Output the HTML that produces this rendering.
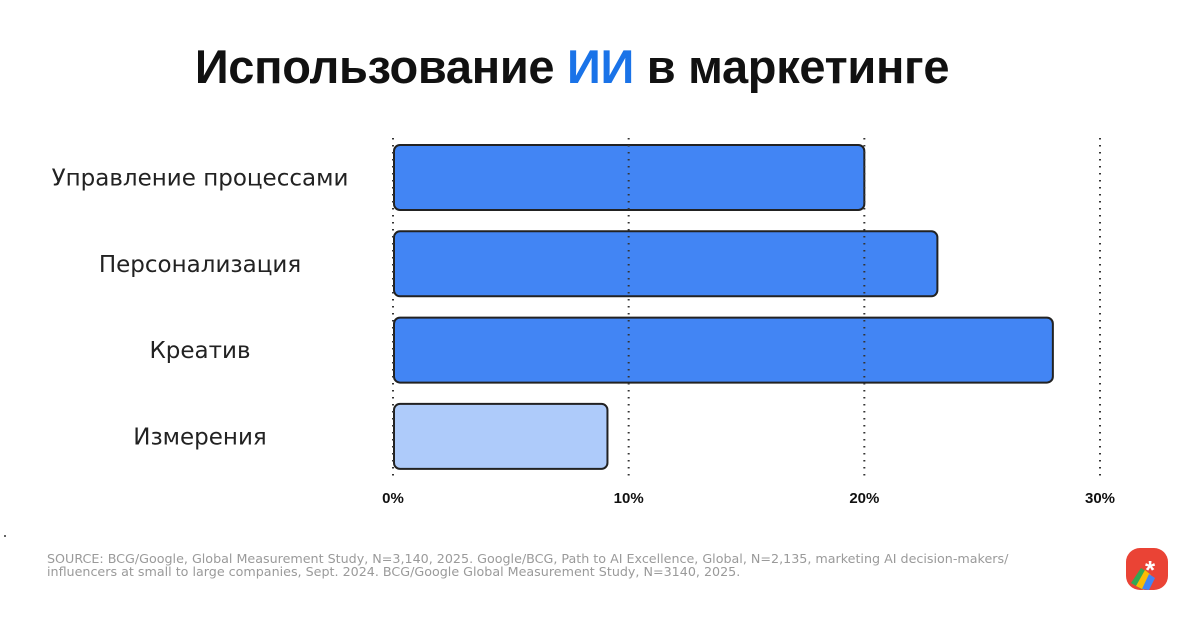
<!DOCTYPE html>
<html><head><meta charset="utf-8">
<style>
body{margin:0;width:1200px;height:620px;background:#fff;overflow:hidden;font-family:"Liberation Sans","DejaVu Sans",sans-serif;}
#title{position:absolute;left:-56px;width:1256px;top:39px;text-align:center;font-size:47px;font-weight:bold;color:#111;letter-spacing:-0.3px}
#title span{color:#1a73e8}
#source{position:absolute;left:47px;top:552px;font-family:"DejaVu Sans",sans-serif;font-size:12.7px;line-height:13px;color:#9a9a9a;white-space:nowrap}
svg{position:absolute;left:0;top:0}
</style></head><body>
<div id="title">Использование <span>ИИ</span> в маркетинге</div>
<svg id="chart" width="1200" height="620"></svg>
<div id="source">SOURCE: BCG/Google, Global Measurement Study, N=3,140, 2025. Google/BCG, Path to AI Excellence, Global, N=2,135, marketing AI decision-makers/<br>influencers at small to large companies, Sept. 2024. BCG/Google Global Measurement Study, N=3140, 2025.</div>
<svg width="1200" height="620" style="pointer-events:none">
<g>
<rect x="1126" y="548" width="42" height="42" rx="14" fill="#ea4335"/>
<path d="M1131 583 L1141 568 L1149 573 L1141 589 Z" fill="#34a853"/>
<path d="M1136 586 L1145 570 L1151 575 L1144 590 Z" fill="#fbbc04"/>
<path d="M1142 589 L1149 574 L1155 578 L1149 590 Z" fill="#4285f4"/>
<text x="1150" y="579" font-size="26" font-weight="bold" fill="#fff" text-anchor="middle" font-family="Liberation Sans,sans-serif">*</text>
</g>
<circle cx="5" cy="536" r="1" fill="#333"/>
</svg>
<script>
const categories=["Управление процессами","Персонализация","Креатив","Измерения"];
const values=[20,23.1,28,9.1];
const fills=["#4285f4","#4285f4","#4285f4","#aecbfa"];
const ticks=[0,10,20,30];
const tickLabels=["0%","10%","20%","30%"];
const svg=document.getElementById('chart');
const NS="http://www.w3.org/2000/svg";
const x0=393,x1=1100,xmax=30;
const xs=v=>x0+(x1-x0)*v/xmax;
const bandTop=145,bandStep=86.3,barH=65;
const ys=i=>bandTop+i*bandStep;
function mk(t,a){const e=document.createElementNS(NS,t);for(const k in a)e.setAttribute(k,a[k]);svg.appendChild(e);return e;}
categories.forEach((c,i)=>{
 const r=mk('rect',{x:xs(0)+1,y:ys(i),width:xs(values[i])-xs(0)-1,height:barH,rx:6,fill:fills[i],stroke:'#222','stroke-width':2});
 
 
 const t=mk('text',{x:200,y:ys(i)+barH/2+8,'text-anchor':'middle','font-size':23,fill:'#222','font-family':'DejaVu Sans, sans-serif'});
 t.textContent=c;
 
 
});
ticks.forEach((v,i)=>{
 const l=mk('line',{x1:xs(v),x2:xs(v),y1:138,y2:480,stroke:'#333','stroke-width':2,'stroke-dasharray':'1.5 5.5'});
 
 
 const t=mk('text',{x:xs(v),y:503,'text-anchor':'middle','font-size':15,'font-weight':'bold',fill:'#111'});
 t.textContent=tickLabels[i];
 
 
});
</script>
</body></html>
